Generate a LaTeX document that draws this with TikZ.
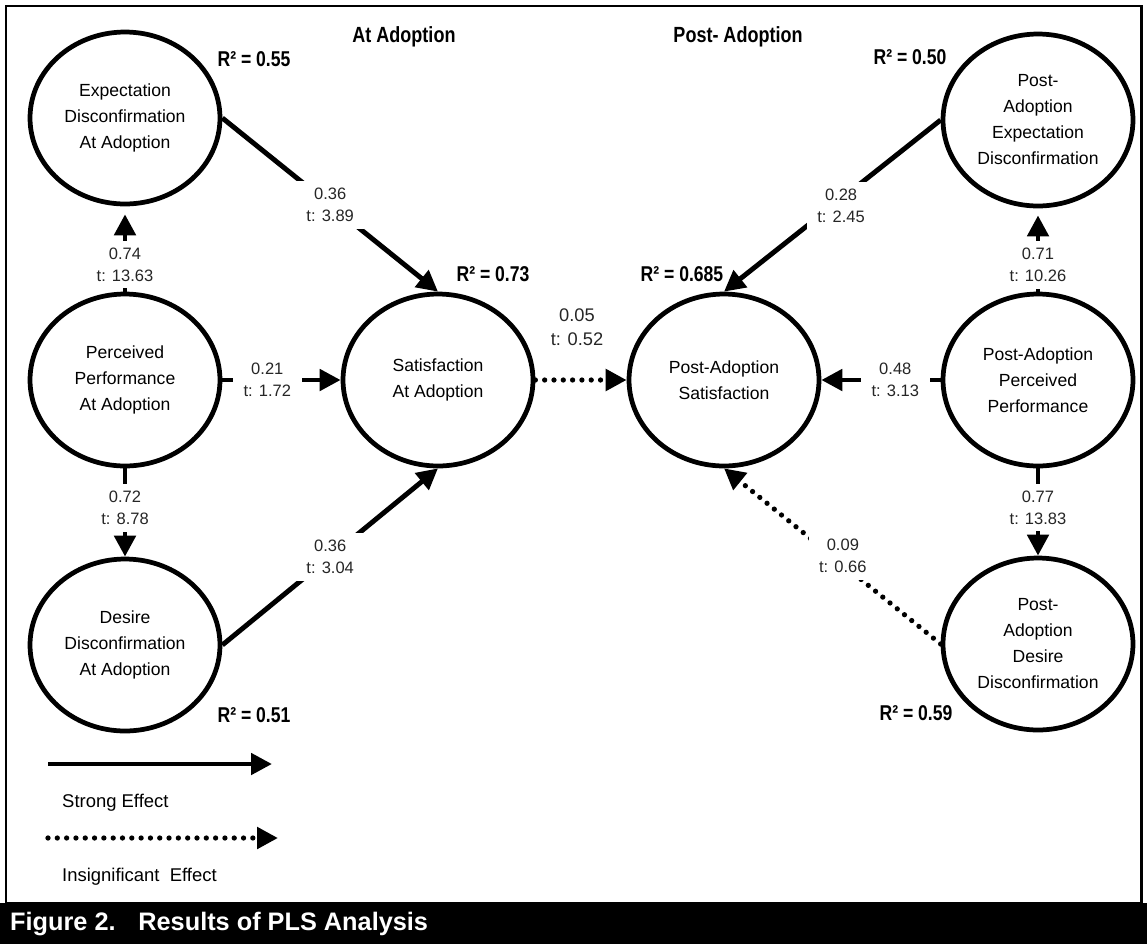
\documentclass[tikz,border=0pt]{standalone}
\usepackage{fontspec}
\setmainfont{Liberation Sans}
\newfontfamily\narrowfont{Liberation Sans}[FakeStretch=0.82]
\usetikzlibrary{shapes.geometric, arrows.meta}

\begin{document}
\begin{tikzpicture}[
  x=0.02cm, y=-0.02cm,
  construct/.style={ellipse, draw, line width=2.7pt, align=center,
              minimum width=3.8cm, minimum height=3.44cm, inner sep=0pt,
              font=\fontsize{10}{14.8}\selectfont},
  coef/.style={fill=white, align=center, text=black!85,
              inner xsep=6pt, inner ysep=4pt,
              font=\fontsize{9.4}{12.5}\selectfont},
  rsq/.style={font=\fontsize{12.2}{14}\selectfont\narrowfont\bfseries},
  head/.style={font=\fontsize{12.5}{14}\selectfont\narrowfont\bfseries},
  legend/.style={anchor=west, font=\fontsize{10.5}{12}\selectfont},
  arr/.style={-{Triangle[length=0.42cm, width=0.42cm]}, line width=2.8pt},
  insig/.style={arr, line width=3pt, line cap=round, dash pattern=on 0pt off 5.3pt}
]
\useasboundingbox (0,0) rectangle (1147,944);

% frame and caption bar
\draw[line width=1.7pt] (6,6) rectangle (1141,903);
\fill[black] (0,903) rectangle (1147,944);
\node[anchor=west, text=white, font=\fontsize{14.4}{16}\selectfont\bfseries]
  (caption) at (4,924) {Figure 2.\hspace{0.9em}Results of PLS Analysis};

% headings
\node[head] (tat)   at (404,37) {At Adoption};
\node[head] (tpost) at (738,37) {Post- Adoption};

% constructs
\node[construct] (eda)  at (125,118)  {Expectation\\Disconfirmation\\At Adoption};
\node[construct] (ppa)  at (125,380)  {Perceived\\Performance\\At Adoption};
\node[construct] (dda)  at (125,645)  {Desire\\Disconfirmation\\At Adoption};
\node[construct] (sa)   at (438,380)  {Satisfaction\\At Adoption};
\node[construct] (pas)  at (724,380)  {Post-Adoption\\Satisfaction};
\node[construct] (paed) at (1038,120) {Post-\\Adoption\\Expectation\\Disconfirmation};
\node[construct] (papp) at (1038,380) {Post-Adoption\\Perceived\\Performance};
\node[construct] (padd) at (1038,644) {Post-\\Adoption\\Desire\\Disconfirmation};

% R squared
\node[rsq] (r55)  at (254,59)  {R² = 0.55};
\node[rsq] (r73)  at (493,274) {R² = 0.73};
\node[rsq] (r685) at (682,274) {R² = 0.685};
\node[rsq] (r50)  at (910,57)  {R² = 0.50};
\node[rsq] (r51)  at (254,715) {R² = 0.51};
\node[rsq] (r59)  at (916,713) {R² = 0.59};

% paths, at adoption
\draw[arr] (eda.east) -- node[coef] {0.36\\t: 3.89} (sa.north);
\draw[arr] (ppa.east) -- node[coef, pos=0.38] {0.21\\t: 1.72} (sa.west);
\draw[arr] (dda.east) -- node[coef] {0.36\\t: 3.04} (sa.south);
\draw[arr, shorten >=4.5pt] (ppa.north) -- node[coef, pos=0.32] {0.74\\t: 13.63} (eda.south);
\draw[arr] (ppa.south) -- node[coef, pos=0.45] {0.72\\t: 8.78} (dda.north);

% at adoption -> post adoption
\draw[insig] (sa.east) -- (pas.west);
\node[coef, fill=none, font=\fontsize{10.4}{13.5}\selectfont] (c05) at (577,327) {0.05\\t: 0.52};

% paths, post adoption
\draw[arr] (paed.west) -- node[coef, xshift=5pt] {0.28\\t: 2.45} (pas.north);
\draw[arr] (papp.west) -- node[coef, pos=0.38] {0.48\\t: 3.13} (pas.east);
\draw[arr, shorten >=4pt] (papp.north) -- node[coef, pos=0.32] {0.71\\t: 10.26} (paed.south);
\draw[arr] (papp.south) -- node[coef, pos=0.45] {0.77\\t: 13.83} (padd.north);
\draw[insig] (padd.west) -- node[coef, xshift=6pt] {0.09\\t: 0.66} (pas.south);

% legend
\coordinate (s0) at (48,764);
\coordinate (s1) at (272,764);
\coordinate (d0) at (48,838);
\coordinate (d1) at (278,838);
\draw[arr] (s0) -- (s1);
\node[legend] (lstrong) at (56,803) {Strong Effect};
\draw[insig] (d0) -- (d1);
\node[legend] (linsig) at (56,877) {Insignificant\ \ Effect};
\end{tikzpicture}
\end{document}
